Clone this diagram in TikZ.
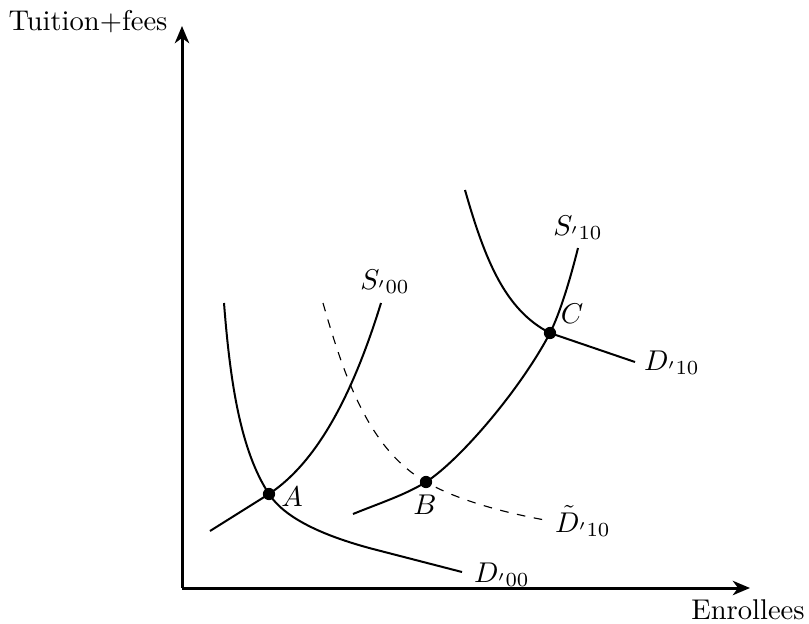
\documentclass[tikz,border=0pt]{standalone}
\usetikzlibrary{arrows.meta}
\begin{document}
\begin{tikzpicture}[x=0.35pt,y=-0.35pt,
  axis/.style={line width=1.05pt,-{Stealth[length=6pt,width=5pt,inset=1.8pt]}},
  curve/.style={line width=0.7pt},
  dcurve/.style={line width=0.4pt,dash pattern=on 3pt off 3pt},
  dot/.style={circle,fill=black,inner sep=0pt,minimum size=4.3pt},
  lbl/.style={inner sep=0pt}]
\useasboundingbox (0,0) rectangle (809,624);
\coordinate (O) at (182,588);
\coordinate (ytip) at (182,26);
\coordinate (xtip) at (750,588);
\draw[axis] (O) -- (ytip);
\draw[axis] (O) -- (xtip);
\node[lbl,anchor=east] (ylab) at (168,22) {Tuition+fees};
\node[lbl] (xlab) at (748,610) {Enrollees};

\coordinate (a) at (269,494);
\coordinate (b) at (426,482);
\coordinate (c) at (550,333);

% D'00
\draw[curve] (224,303) .. controls (230,380) and (240,450) .. (a)
  .. controls (284,517) and (320,535) .. (373,549) -- (462,572);
% S'00
\draw[curve] (210,531) -- (a) .. controls (305,470) and (345,420) .. (381,303);
% D~'10 dashed
\draw[dcurve] (323,303) .. controls (345,380) and (370,450) .. (b)
  .. controls (450,496) and (490,510) .. (545,520);
% S'10
\draw[curve] (353,514) .. controls (380,503) and (405,495) .. (b)
  .. controls (460,460) and (520,390) .. (c)
  .. controls (560,313) and (570,280) .. (578,248);
% D'10
\draw[curve] (465,190) .. controls (485,260) and (505,310) .. (c) -- (635,362);

\node[dot] (A) at (a) {};
\node[dot] (B) at (b) {};
\node[dot] (C) at (c) {};

\node[lbl] (lA) at (292,497) {$A$};
\node[lbl] (lB) at (425,505) {$B$};
\node[lbl] (lC) at (572,314) {$C$};
\node[lbl] (lS00) at (385,282) {$S_{'00}$};
\node[lbl] (lS10) at (578,228) {$S_{'10}$};
\node[lbl] (lD10) at (672,363) {$D_{'10}$};
\node[lbl] (lD00) at (502,575) {$D_{'00}$};
\node[lbl] (lDt) at (583,521) {$\tilde{D}_{'10}$};
\end{tikzpicture}
\end{document}
